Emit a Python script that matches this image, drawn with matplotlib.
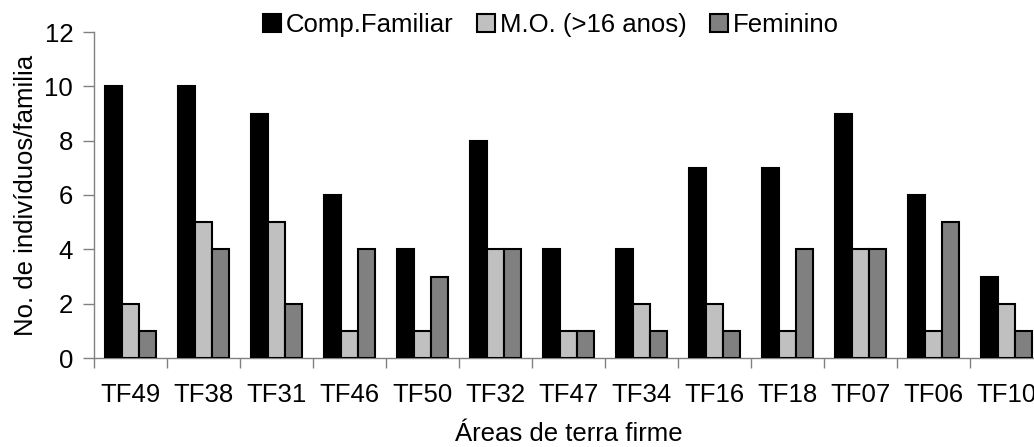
import matplotlib
matplotlib.use("Agg")
import matplotlib.pyplot as plt
import numpy as np

plt.rcParams['font.family'] = ['Liberation Sans', 'DejaVu Sans']

categories = ["TF49", "TF38", "TF31", "TF46", "TF50", "TF32", "TF47",
              "TF34", "TF16", "TF18", "TF07", "TF06", "TF10"]
comp_familiar = [10, 10, 9, 6, 4, 8, 4, 4, 7, 7, 9, 6, 3]
mao_obra = [2, 5, 5, 1, 1, 4, 1, 2, 2, 1, 4, 1, 2]
feminino = [1, 4, 2, 4, 3, 4, 1, 1, 1, 4, 4, 5, 1]
series_names = ["Comp.Familiar", "M.O. (>16 anos)", "Feminino"]
yticks = [0, 2, 4, 6, 8, 10, 12]

W, H = 1034, 447
fig = plt.figure(figsize=(W / 100, H / 100), dpi=100)
ax = fig.add_axes([94 / W, (H - 358) / H, 949 / W, 326 / H])

x = np.arange(len(categories))
bw = 0.235
colors = ["#000000", "#C0C0C0", "#808080"]
for i, (vals, name, c) in enumerate(zip([comp_familiar, mao_obra, feminino], series_names, colors)):
    ax.bar(x + (i - 1) * bw, vals, width=bw, color=c, edgecolor="black",
           linewidth=1.5, label=name, zorder=3)

ax.set_xlim(-0.5, len(categories) - 0.5)
ax.set_ylim(0, 12)
ax.set_yticks(yticks)
ax.set_yticklabels([str(v) for v in yticks])
ax.set_xticks(x)
ax.set_xticklabels(categories)
ax.set_xticks(np.arange(len(categories) + 1) - 0.5, minor=True)

for s in ["top", "right"]:
    ax.spines[s].set_visible(False)
for s in ["left", "bottom"]:
    ax.spines[s].set_color("#808080")
    ax.spines[s].set_linewidth(1.0)

fs = 18.5
ax.tick_params(axis="y", direction="out", length=8, width=1, color="#808080",
               labelsize=fs, pad=7)
ax.tick_params(axis="x", which="major", length=0, labelsize=fs, pad=18)
ax.tick_params(axis="x", which="minor", direction="out", length=7, width=1,
               color="#808080")

ax.set_xlabel("Áreas de terra firme", fontsize=fs, va="center")
ax.xaxis.set_label_coords(0.5, -0.232)
ax.set_ylabel("No. de indivíduos/familia", fontsize=fs, va="center")
ax.yaxis.set_label_coords(-0.072, 0.5)

leg = fig.legend(loc="center", bbox_to_anchor=(551 / W, 1 - 25 / H), ncol=3,
                 frameon=False, fontsize=fs, handlelength=0.7, handleheight=0.7,
                 handletextpad=0.2, columnspacing=0.9, borderaxespad=0)

fig.savefig("out.png", dpi=100)
